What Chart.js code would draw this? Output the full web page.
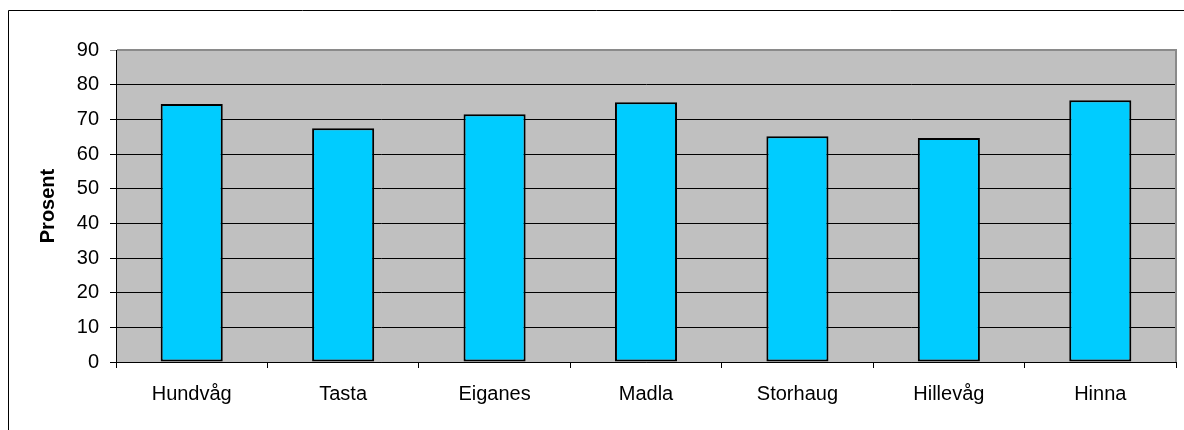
<!DOCTYPE html>
<html>
<head>
<meta charset="utf-8">
<script src="https://cdn.jsdelivr.net/npm/chart.js@4/dist/chart.umd.min.js"></script>
<style>
  html, body { margin: 0; padding: 0; background: #fff; }
  #wrap { width: 1184px; height: 430px; position: relative; }
</style>
</head>
<body>
<div id="wrap"><canvas id="prosentChart"></canvas></div>
<script>
// values
var categories = ['Hundvåg', 'Tasta', 'Eiganes', 'Madla', 'Storhaug', 'Hillevåg', 'Hinna'];
var prosent = [74.4, 67.4, 71.5, 74.9, 65.1, 64.6, 75.5];
var yMin = 0;
var yMax = 90;
var yStep = 10;
var yTitle = 'Prosent';

var fontFamily = '"Liberation Sans", Arial, sans-serif';

// gray plot background, gray plot border on top/right, outer chart frame
var excelLook = {
  id: 'excelLook',
  beforeDraw: function(chart) {
    var a = chart.chartArea;
    var ctx = chart.ctx;
    ctx.save();
    ctx.fillStyle = '#C0C0C0';
    ctx.fillRect(a.left, a.top, a.right - a.left, a.bottom - a.top);
    ctx.restore();
  },
  afterDraw: function(chart) {
    var a = chart.chartArea;
    var ctx = chart.ctx;
    ctx.save();
    ctx.strokeStyle = '#8a8a8a';
    ctx.lineWidth = 2;
    ctx.beginPath();
    ctx.moveTo(a.left + 1, a.top);
    ctx.lineTo(a.right, a.top);
    ctx.lineTo(a.right, a.bottom);
    ctx.stroke();
    // outer frame
    ctx.strokeStyle = '#000';
    ctx.lineWidth = 1;
    ctx.beginPath();
    ctx.moveTo(8.5, 430);
    ctx.lineTo(8.5, 10.5);
    ctx.lineTo(1184, 10.5);
    ctx.stroke();
    ctx.restore();
  }
};

const ctx = document.getElementById('prosentChart').getContext('2d');

const prosentChart = new Chart(ctx, {
  type: 'bar',
  data: {
    labels: categories,
    datasets: [{
      label: yTitle,
      data: prosent,
      backgroundColor: '#00CCFF',
      borderColor: '#000000',
      borderWidth: 2,
      borderSkipped: false,
      categoryPercentage: 1.0,
      barPercentage: 0.41
    }]
  },
  options: {
    responsive: true,
    maintainAspectRatio: false,
    animation: false,
    layout: {
      padding: { left: 0, top: 50, right: 8, bottom: 0 }
    },
    plugins: {
      legend: { display: false },
      tooltip: { enabled: false }
    },
    scales: {
      x: {
        grid: {
          offset: true,
          drawOnChartArea: false,
          drawTicks: true,
          tickLength: 6,
          color: '#000'
        },
        border: { display: true, color: '#000', width: 1 },
        ticks: {
          color: '#000',
          padding: 14,
          maxRotation: 0,
          font: { family: fontFamily, size: 20 }
        },
        afterFit: function(scale) { scale.height = 68; }
      },
      y: {
        min: yMin,
        max: yMax,
        grid: {
          drawTicks: true,
          tickLength: 6,
          color: function(c) { return c.tick && c.tick.value === yMax ? '#8a8a8a' : '#000'; },
          lineWidth: 1
        },
        border: { display: true, color: '#000', width: 1 },
        ticks: {
          stepSize: yStep,
          color: '#000',
          padding: 11,
          font: { family: fontFamily, size: 20 }
        },
        title: {
          display: true,
          text: yTitle,
          color: '#000',
          padding: { top: 36, bottom: 0 },
          font: { family: fontFamily, size: 20, weight: 'bold' }
        },
        afterFit: function(scale) { scale.width = 116; }
      }
    }
  },
  plugins: [excelLook]
});
</script>
</body>
</html>
